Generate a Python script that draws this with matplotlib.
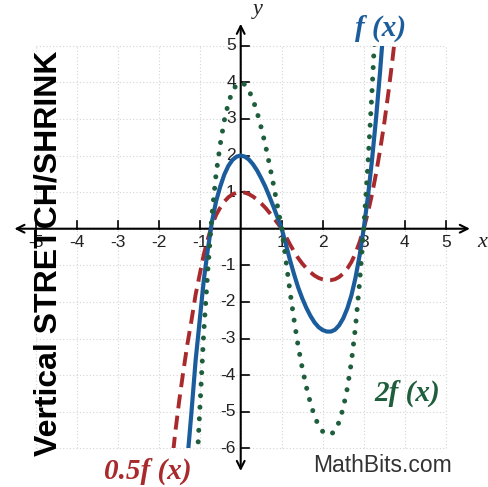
import numpy as np
import matplotlib.pyplot as plt
from matplotlib.patches import Rectangle

x_vals = np.array([-1.7, -1.6, -1.5, -1.4, -1.3, -1.2, -1.1, -1.0, -0.9, -0.8,
                   -0.7, -0.6, -0.5, -0.4, -0.3, -0.2, -0.1, 0.0, 0.1, 0.2,
                   0.3, 0.4, 0.5, 0.6, 0.7, 0.8, 0.9, 1.0, 1.1, 1.2,
                   1.3, 1.4, 1.5, 1.6, 1.7, 1.8, 1.9, 2.0, 2.1, 2.2,
                   2.3, 2.4, 2.5, 2.6, 2.7, 2.8, 2.9, 3.0, 3.1, 3.2,
                   3.3, 3.4, 3.5, 3.6, 3.7, 3.8])
f_vals = np.array([-13.3, -11.2, -9.4, -7.8, -6.3, -5.0, -3.6, -2.5, -1.4, -0.55,
                   0.2, 0.75, 1.15, 1.48, 1.72, 1.88, 1.97, 2.0, 1.97, 1.89,
                   1.76, 1.59, 1.38, 1.15, 0.88, 0.60, 0.30, 0.0, -0.42, -0.85,
                   -1.24, -1.60, -1.90, -2.16, -2.38, -2.56, -2.69, -2.77, -2.81, -2.81,
                   -2.76, -2.64, -2.45, -2.18, -1.82, -1.34, -0.73, 0.0, 0.85, 1.85,
                   3.0, 4.3, 5.75, 7.4, 9.2, 11.2])

scales = [0.5, 1.0, 2.0]
curve_labels = ['0.5f (x)', 'f (x)', '2f (x)']

x_ticks = [-5, -4, -3, -2, -1, 1, 2, 3, 4, 5]
y_ticks = [-6, -5, -4, -3, -2, -1, 1, 2, 3, 4, 5]

BLUE = '#1b5d9c'
GREEN = '#1f5e3c'
RED = '#a82a2c'

fig = plt.figure(figsize=(4.89, 4.87), dpi=100)
ax = fig.add_axes([0, 0, 1, 1])
ax.set_xlim(-5.871, 6.056)
ax.set_ylim(-7.057, 6.249)
ax.axis('off')

# dotted grid over the window [-5, 5] x [-6, 5]
for gx in range(-5, 6):
    ax.plot([gx, gx], [-6, 5], color='#d4d4d4', lw=0.8, ls=(0, (1, 2)), zorder=1)
for gy in range(-6, 6):
    ax.plot([-5, 5], [gy, gy], color='#d4d4d4', lw=0.8, ls=(0, (1, 2)), zorder=1)

# axes with open arrow heads on both ends
arrow = dict(arrowstyle='<->', color='black', lw=1.5, mutation_scale=14,
             shrinkA=0, shrinkB=0)
ax.annotate('', xy=(5.59, 0), xytext=(-5.52, 0), arrowprops=arrow, zorder=3)
ax.annotate('', xy=(0, 5.6), xytext=(0, -6.62), arrowprops=arrow, zorder=3)

for tx in x_ticks:
    ax.plot([tx, tx], [0, 0.22], color='black', lw=1.2, zorder=3)
    ax.text(tx, -0.38, str(tx), ha='center', va='center', fontsize=12.5,
            family='Liberation Sans', color='#222222', zorder=2)
for ty in y_ticks:
    ax.plot([0, 0.2], [ty, ty], color='black', lw=1.2, zorder=3)
    ax.text(-0.12, ty, str(ty), ha='right', va='center', fontsize=12.5,
            family='Liberation Sans', color='#222222', zorder=2)

ax.text(5.9, -0.38, 'x', ha='center', va='center', fontsize=16,
        family='Liberation Serif', style='italic', color='#222222')
ax.text(0.42, 5.98, 'y', ha='center', va='center', fontsize=16,
        family='Liberation Serif', style='italic', color='#222222')

# curves, cut off at the window edges
window = Rectangle((-5, -6), 10, 11, transform=ax.transData)
styles = [
    dict(color=RED, lw=2.8, ls=(0, (3.6, 1.9)), zorder=4),
    dict(color=BLUE, lw=3.0, ls='-', zorder=5),
    dict(color=GREEN, lw=3.6, ls=(0, (0.01, 2.3)), dash_capstyle='round', zorder=6),
]
for k, st in zip(scales, styles):
    line, = ax.plot(x_vals, k * f_vals, solid_capstyle='butt', **st)
    line.set_clip_path(window)

ax.text(3.40, 5.48, curve_labels[1], ha='center', va='center', fontsize=21,
        family='Liberation Serif', style='italic', weight='bold', color=BLUE)
ax.text(4.06, -4.49, curve_labels[2], ha='center', va='center', fontsize=21,
        family='Liberation Serif', style='italic', weight='bold', color=GREEN)
ax.text(-2.26, -6.62, curve_labels[0], ha='center', va='center', fontsize=21,
        family='Liberation Serif', style='italic', weight='bold', color=RED)

ax.text(3.47, -6.46, 'MathBits.com', ha='center', va='center', fontsize=16.5,
        family='Liberation Sans', color='#333333')

fig.text(0.1, 0.48, 'Vertical STRETCH/SHRINK', rotation=90, ha='center',
         va='center', fontsize=23, weight='bold', family='Liberation Sans',
         color='black', zorder=10)

fig.savefig('out.png', dpi=100)
